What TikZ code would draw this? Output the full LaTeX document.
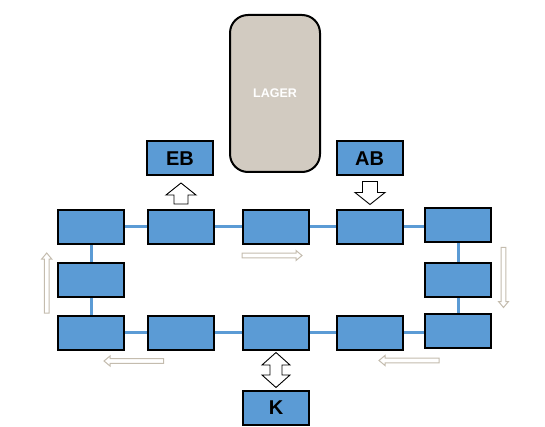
\documentclass[tikz,border=0pt]{standalone}
\usepackage{fontspec}
\setmainfont{Liberation Sans}
\usetikzlibrary{backgrounds,calc}
\definecolor{boxblue}{RGB}{91,155,213}
\definecolor{lagerfill}{RGB}{210,203,193}
\definecolor{flowcol}{RGB}{196,188,174}
\tikzset{
  x=1pt, y=-1pt,
  station/.style={draw=black, line width=2pt, fill=boxblue, minimum width=66pt, minimum height=34pt, inner sep=0pt, font=\bfseries\fontsize{20}{20}\selectfont},
  lager/.style={draw=black, line width=2pt, fill=lagerfill, rounded corners=18pt, minimum width=90pt, minimum height=157pt, inner sep=0pt, text=white, font=\bfseries\fontsize{12.5}{12.5}\selectfont},
  conn/.style={draw=boxblue, line width=3pt},
  hollow/.style={draw=black, line width=0.9pt, fill=white, line join=miter},
  flowline/.style={draw=flowcol, line width=1pt, fill=white},
}
\newcommand\flowarr[4]{% x, y, angle, length
  \draw[flowline, shift={(#1,#2)}, rotate=#3] (0,-2.4) -- (#4-6,-2.4) -- (#4-6,-5) -- (#4,0) -- (#4-6,5) -- (#4-6,2.4) -- (0,2.4) -- cycle;}
\begin{document}
\begin{tikzpicture}
\useasboundingbox (0,0) rectangle (545,427);
% top row
\node[station] (t1) at (91,227) {};
\node[station] (t2) at (180.5,227) {};
\node[station] (t3) at (276,227) {};
\node[station] (t4) at (369.5,227) {};
\node[station] (t5) at (458,225.5) {};
% middles
\node[station] (m1) at (91,280) {};
\node[station] (m5) at (458,280) {};
% bottom row
\node[station] (b1) at (91,332.5) {};
\node[station] (b2) at (180.5,332.5) {};
\node[station] (b3) at (276,332.5) {};
\node[station] (b4) at (369.5,332.5) {};
\node[station] (b5) at (458,330.5) {};
% others
\node[station] (eb) at (180,158.5) {EB};
\node[station] (ab) at (369.5,158.5) {AB};
\node[station] (k) at (276,407.5) {K};
\node[lager] (lager) at (275,93.5) {LAGER};
% connectors
\begin{scope}[on background layer]
\draw[conn] (t1) -- (t2) -- (t3) -- (t4) -- (t5.center |- t4.center);
\draw[conn] (b1) -- (b2) -- (b3) -- (b4) -- (b5.center |- b4.center);
\draw[conn] (t1) -- (m1) -- (b1);
\draw[conn] (t5) -- (m5) -- (b5);
\end{scope}
% block arrows
\coordinate (ebarr) at ($(t2.north)+(0.5,-5)$);
\draw[hollow, shift={(ebarr)}] (-7,0) -- (-7,-9) -- (-15,-9) -- (0,-21) -- (15,-9) -- (7,-9) -- (7,0) -- cycle;
\coordinate (abarr) at ($(ab.south)+(0.5,5)$);
\draw[hollow, shift={(abarr)}] (-7.5,0) -- (-7.5,11) -- (-15,11) -- (0,23) -- (15,11) -- (7.5,11) -- (7.5,0) -- cycle;
\coordinate (karr) at ($(b3.south)!0.5!(k.north)$);
\draw[hollow, shift={(karr)}] (0,-17.5) -- (14,-5) -- (6,-5) -- (6,5) -- (14,5) -- (0,17.5) -- (-14,5) -- (-6,5) -- (-6,-5) -- (-14,-5) -- cycle;
% flow arrows
\flowarr{242}{255.5}{0}{60}
\flowarr{503.5}{247.5}{-90}{60}
\flowarr{439}{360.5}{180}{60}
\flowarr{163.5}{361}{180}{59.5}
\flowarr{46.7}{313}{90}{60}
\end{tikzpicture}
\end{document}
